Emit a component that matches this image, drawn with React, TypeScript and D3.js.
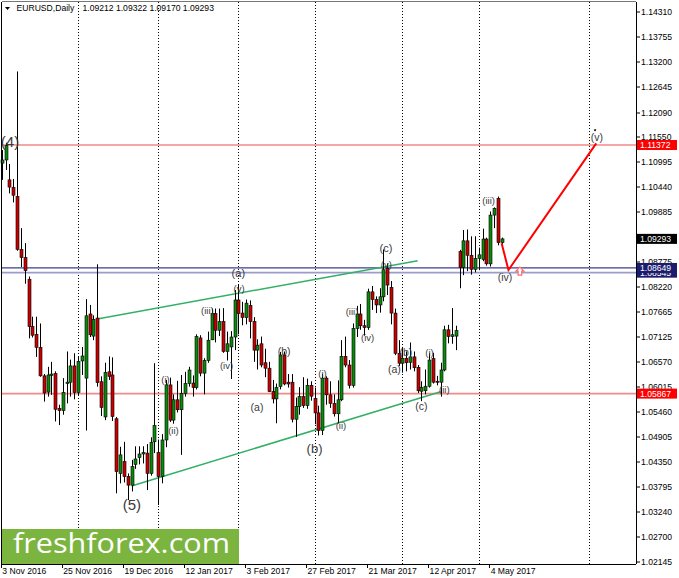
import React from "react";
import * as d3 from "d3";

// ---------- DATA ----------
const open = [
  1.1097, 1.1104, 1.106, 1.1043, 1.1023, 1.0906, 1.0888, 1.084, 1.0735, 1.0718,
  1.0689, 1.0626, 1.059, 1.0627, 1.0631, 1.0554, 1.0549, 1.0609, 1.0612, 1.0648,
  1.0589, 1.0659, 1.0621, 1.0763, 1.0714, 1.0754, 1.0613, 1.0535, 1.0635, 1.0628,
  1.0531, 1.041, 1.0436, 1.0403, 1.0384, 1.043, 1.0445, 1.0453, 1.0455, 1.041,
  1.048, 1.0456, 1.0403, 1.0484, 1.0606, 1.0528, 1.0573, 1.0551, 1.0587, 1.0609,
  1.061, 1.06, 1.071, 1.0632, 1.066, 1.0706, 1.0764, 1.0727, 1.0746, 1.068,
  1.069, 1.0712, 1.0794, 1.0765, 1.0755, 1.0782, 1.0746, 1.0683, 1.0697, 1.0655,
  1.0643, 1.0591, 1.0575, 1.0602, 1.0672, 1.0612, 1.0612, 1.053, 1.0558, 1.058,
  1.056, 1.0605, 1.0576, 1.0544, 1.0505, 1.0621, 1.0584, 1.0565, 1.0542, 1.0573,
  1.0669, 1.065, 1.0605, 1.0731, 1.0763, 1.0737, 1.0733, 1.0812, 1.0795, 1.0783,
  1.0801, 1.0864, 1.0822, 1.0765, 1.0676, 1.0654, 1.0665, 1.0656, 1.0668, 1.0645,
  1.0592, 1.0593, 1.0603, 1.0664, 1.0614, 1.0612, 1.0639, 1.0728, 1.0713, 1.0714,
  1.0901, 1.0866, 1.0925, 1.0893, 1.0862, 1.0886, 1.0884, 1.0929, 1.0874, 1.0982,
  1.1019, 1.09212,
];
const high = [
  1.1126, 1.1142, 1.1095, 1.1062, 1.13, 1.0953, 1.092, 1.0846, 1.0757, 1.0757,
  1.0742, 1.063, 1.0646, 1.0657, 1.0636, 1.0562, 1.0621, 1.068, 1.0662, 1.0676,
  1.0668, 1.069, 1.0796, 1.0783, 1.076, 1.0873, 1.0625, 1.0655, 1.0669, 1.0667,
  1.0535, 1.0469, 1.048, 1.041, 1.044, 1.047, 1.047, 1.047, 1.0475, 1.049,
  1.0654, 1.0485, 1.0497, 1.0617, 1.0622, 1.0585, 1.0615, 1.0628, 1.0635, 1.0646,
  1.0627, 1.0718, 1.0716, 1.0665, 1.0724, 1.0775, 1.0775, 1.0775, 1.0776, 1.0724,
  1.0725, 1.0816, 1.0829, 1.079, 1.0795, 1.0793, 1.0756, 1.0707, 1.0713, 1.0686,
  1.0657, 1.0617, 1.0609, 1.0679, 1.068, 1.063, 1.063, 1.0578, 1.0601, 1.0623,
  1.062, 1.0614, 1.06, 1.056, 1.063, 1.0625, 1.0614, 1.0585, 1.0616, 1.0705,
  1.0713, 1.0661, 1.0742, 1.0781, 1.0785, 1.075, 1.0819, 1.0825, 1.0802, 1.082,
  1.0906, 1.0875, 1.0836, 1.0775, 1.0705, 1.069, 1.068, 1.07, 1.068, 1.065,
  1.0614, 1.064, 1.0676, 1.0677, 1.0626, 1.0655, 1.0737, 1.0739, 1.0776, 1.0737,
  1.0905, 1.0949, 1.095, 1.0935, 1.0935, 1.091, 1.0952, 1.0932, 1.099, 1.0999,
  1.1023, 1.09322,
];
const low = [
  1.106, 1.1082, 1.103, 1.101, 1.0903, 1.0867, 1.083, 1.0709, 1.0711, 1.0668,
  1.0624, 1.0569, 1.058, 1.0584, 1.0525, 1.0517, 1.054, 1.0565, 1.058, 1.0574,
  1.0582, 1.0628, 1.0505, 1.0712, 1.0705, 1.0602, 1.0537, 1.0528, 1.0617, 1.0526,
  1.0366, 1.0388, 1.039, 1.0351, 1.037, 1.042, 1.043, 1.0432, 1.0373, 1.0405,
  1.0455, 1.034, 1.0388, 1.0468, 1.0524, 1.052, 1.0545, 1.0451, 1.058, 1.0602,
  1.058, 1.0596, 1.0625, 1.0585, 1.0655, 1.0705, 1.07, 1.0714, 1.0677, 1.066,
  1.0619, 1.0683, 1.0718, 1.0738, 1.074, 1.0709, 1.0657, 1.064, 1.0645, 1.0623,
  1.059, 1.0565, 1.0521, 1.0596, 1.0605, 1.06, 1.0523, 1.0491, 1.054, 1.0555,
  1.0553, 1.0571, 1.0519, 1.0494, 1.0495, 1.0562, 1.0555, 1.0536, 1.0521, 1.057,
  1.0645, 1.0598, 1.06, 1.0712, 1.0728, 1.0715, 1.0728, 1.0772, 1.0765, 1.0766,
  1.0791, 1.0805, 1.074, 1.0672, 1.0648, 1.0633, 1.0636, 1.064, 1.0636, 1.0588,
  1.057, 1.0585, 1.06, 1.0609, 1.0605, 1.058, 1.0636, 1.0698, 1.0697, 1.0683,
  1.082, 1.0849, 1.0858, 1.085, 1.0855, 1.086, 1.088, 1.087, 1.0868, 1.0953,
  1.0915, 1.0917,
];
const close = [
  1.1104, 1.1136, 1.1044, 1.1026, 1.0906, 1.0888, 1.0859, 1.0735, 1.0716, 1.0689,
  1.0626, 1.0588, 1.0628, 1.063, 1.0552, 1.0549, 1.0589, 1.0612, 1.0648, 1.0589,
  1.0658, 1.067, 1.0759, 1.0717, 1.0751, 1.0611, 1.0556, 1.0633, 1.0625, 1.0536,
  1.0414, 1.0451, 1.0403, 1.0384, 1.0425, 1.0442, 1.0453, 1.0456, 1.041, 1.0478,
  1.0516, 1.0403, 1.0484, 1.0606, 1.0528, 1.0573, 1.0551, 1.0587, 1.0609, 1.0639,
  1.06, 1.0713, 1.0632, 1.066, 1.0705, 1.0764, 1.0727, 1.0746, 1.068, 1.0697,
  1.0712, 1.0794, 1.0764, 1.0755, 1.0787, 1.0746, 1.0683, 1.0694, 1.065, 1.0643,
  1.0591, 1.0575, 1.06, 1.0672, 1.0608, 1.0608, 1.053, 1.0558, 1.058, 1.056,
  1.0605, 1.0581, 1.0544, 1.0505, 1.0621, 1.0584, 1.0565, 1.0542, 1.0573, 1.0669,
  1.065, 1.0605, 1.0731, 1.0763, 1.0737, 1.0733, 1.0812, 1.0795, 1.0783, 1.0801,
  1.0861, 1.0827, 1.0765, 1.0676, 1.0654, 1.0665, 1.0655, 1.0668, 1.0644, 1.0593,
  1.06, 1.0603, 1.0661, 1.0612, 1.0612, 1.0639, 1.0728, 1.0713, 1.0717, 1.0726,
  1.0866, 1.0925, 1.0893, 1.0862, 1.0886, 1.0894, 1.0929, 1.0874, 1.0982, 1.0997,
  1.0921, 1.09293,
];

const dateTickBars = [0, 16, 32, 48, 64, 80, 96, 112, 128];
const dateTickLabels = [
  "3 Nov 2016", "25 Nov 2016", "19 Dec 2016", "12 Jan 2017", "3 Feb 2017",
  "27 Feb 2017", "21 Mar 2017", "12 Apr 2017", "4 May 2017",
];
const monthSeparatorBars = [20, 41, 62, 82, 105, 125, 154];

const priceTicks = [
  1.1431, 1.13755, 1.132, 1.12645, 1.1209, 1.1155, 1.10995, 1.1044, 1.09885,
  1.0933, 1.08775, 1.0822, 1.07665, 1.07125, 1.0657, 1.06015, 1.0546, 1.04905,
  1.0435, 1.03795, 1.0324, 1.027, 1.02145,
];
// tick whose label sits fully under the last-price box in the reference
const hiddenTickLabels = [1.0933];

const redLevels = [1.11372, 1.05867];
const blueLevels = [1.08649, 1.08545];
const lastPrice = 1.09293;

// trend lines: [bar, price] pairs
const upperChannel = [[25, 1.0752], [109, 1.0881]];
const lowerChannel = [[34, 1.0382], [115, 1.0591]];
const projection = [[131, 1.09195], [132.8, 1.08604], [155.8, 1.11409]];
const arrowMark = [135.8, 1.0858];

// wave labels: text, bar, price, font size
const waveText = [
  "(4)", "(5)", "(a)", "(v)", "(iii)", "(iv)", "(i)", "(ii)", "(a)", "(b)",
  "(b)", "(i)", "(ii)", "(iii)", "(iv)", "(c)", "(v)", "(a)", "(b)", "(c)",
  "(i)", "(ii)", "(iii)", "(iv)", "(v)",
];
const waveBar = [
  2.15, 34.1, 62.0, 62.2, 53.9, 58.9, 42.9, 45.0, 66.9, 74.0,
  81.97, 84.06, 88.9, 91.8, 95.9, 100.7, 100.8, 102.9, 105.9, 110.0,
  112.1, 116.0, 127.6, 131.9, 156.0,
];
const wavePrice = [
  1.1146, 1.03404, 1.08537, 1.08194, 1.07718, 1.06489, 1.06179, 1.0505, 1.0557, 1.0681,
  1.04661, 1.06312, 1.05161, 1.07685, 1.07109, 1.0908, 1.08726, 1.06401, 1.06788, 1.05592,
  1.06788, 1.05947, 1.10143, 1.08449, 1.11538,
];
const waveSize = [
  15, 15, 11, 9.5, 9.5, 9.5, 9.5, 9.5, 10.5, 10.5,
  13, 9.5, 9.5, 9.5, 9.5, 11, 9.5, 10.5, 10.5, 10.5,
  9.5, 9.5, 9.5, 10.5, 10.5,
];

// ---------- LAYOUT ----------
const W = 679;
const H = 578;
const frame = { left: 2, right: 636, top: 2, bottom: 564 };
const x = d3.scaleLinear().domain([0, 131]).range([1.8, 501.6]);
const y = d3.scaleLinear().domain([1.02145, 1.1431]).range([561.7, 12.3]);
const font = "'Liberation Sans', Arial, sans-serif";

const snap = (v: number) => Math.round(v) + 0.5;

export default function App() {
  const line = d3
    .line<number[]>()
    .x((d) => x(d[0]))
    .y((d) => y(d[1]));

  const candles = open.map((o, i) => {
    const c = close[i];
    const cx = Math.round(x(i));
    const yTop = y(Math.max(o, c));
    const yBot = y(Math.min(o, c));
    const up = c >= o;
    return (
      <g key={i}>
        <line
          x1={cx + 0.5}
          x2={cx + 0.5}
          y1={y(high[i])}
          y2={y(low[i])}
          stroke="#000"
          strokeWidth={1}
        />
        <rect
          x={cx - 1}
          y={yTop}
          width={3}
          height={Math.max(1, yBot - yTop)}
          fill={up ? "#0a8a0a" : "#c80000"}
          stroke="#000"
          strokeWidth={0.6}
        />
      </g>
    );
  });

  const ax = x(arrowMark[0]);
  const ay = y(arrowMark[1]);

  return (
    <svg width={W} height={H} style={{ display: "block", position: "absolute", left: 0, top: 0 }}>
      <rect x={0} y={0} width={W} height={H} fill="#fff" />

      {/* month separators */}
      {monthSeparatorBars.map((b) => (
        <line
          key={b}
          x1={snap(x(b))}
          x2={snap(x(b))}
          y1={frame.top}
          y2={frame.bottom}
          stroke="#000"
          strokeWidth={1}
          strokeDasharray="1,2"
        />
      ))}

      {/* horizontal levels */}
      {blueLevels.map((p, k) => (
        <line
          key={"b" + k}
          x1={frame.left}
          x2={frame.right}
          y1={y(p)}
          y2={y(p)}
          stroke={k === 0 ? "#3c3c96" : "#9c9ccc"}
          strokeWidth={k === 0 ? 1.2 : 1.6}
        />
      ))}
      {redLevels.map((p, k) => (
        <line
          key={"r" + k}
          x1={frame.left}
          x2={frame.right}
          y1={y(p)}
          y2={y(p)}
          stroke="#f28a8a"
          strokeWidth={1.6}
        />
      ))}

      {/* channel lines */}
      <path d={line(upperChannel) || ""} stroke="#33b066" strokeWidth={1.5} fill="none" />
      <path d={line(lowerChannel) || ""} stroke="#33b066" strokeWidth={1.5} fill="none" />

      {/* candles */}
      {candles}

      {/* projection */}
      <path d={line(projection) || ""} stroke="#ff0000" strokeWidth={2} fill="none" />
      <path
        d={`M${ax},${ay - 4} L${ax + 4},${ay} L${ax + 1.8},${ay} L${ax + 1.8},${ay + 4} L${ax - 1.8},${ay + 4} L${ax - 1.8},${ay} L${ax - 4},${ay} Z`}
        fill="#fff"
        stroke="#ff6a6a"
        strokeWidth={1.2}
      />
      <circle cx={x(155.5)} cy={y(1.11702)} r={1.2} fill="#333" />

      {/* wave labels */}
      {waveText.map((t, k) => (
        <text
          key={"w" + k}
          x={x(waveBar[k])}
          y={y(wavePrice[k])}
          fontFamily={font}
          fontSize={waveSize[k]}
          fill="#3a3a3a"
          textAnchor="middle"
          dominantBaseline="central"
        >
          {t}
        </text>
      ))}

      {/* watermark */}
      <rect x={frame.left} y={529} width={237} height={35} fill="#7bb43f" />
      <text
        x={13}
        y={553}
        fontFamily="'Open Sans', sans-serif"
        fontSize={28}
        fill="#fff"
        textLength={217}
        lengthAdjust="spacingAndGlyphs"
      >
        freshforex.com
      </text>

      {/* frame */}
      <line x1={frame.left} x2={frame.right} y1={1.5} y2={1.5} stroke="#777" />
      <line x1={1.5} x2={1.5} y1={frame.top} y2={frame.bottom} stroke="#000" />
      <line x1={frame.left} x2={frame.right} y1={frame.bottom + 0.5} y2={frame.bottom + 0.5} stroke="#000" />
      <line x1={frame.right + 0.5} x2={frame.right + 0.5} y1={frame.top} y2={frame.bottom} stroke="#000" />

      {/* price axis */}
      {priceTicks.map((p) => (
        <g key={p}>
          <line x1={frame.right} x2={frame.right + 4} y1={snap(y(p)) - 0.5} y2={snap(y(p)) - 0.5} stroke="#000" />
          {hiddenTickLabels.includes(p) ? null : (
            <text x={641} y={y(p)} fontFamily={font} fontSize={8.6} fill="#000" dominantBaseline="central">
              {p.toFixed(5)}
            </text>
          )}
        </g>
      ))}

      {/* price boxes */}
      {[
        { p: blueLevels[1], bg: "#1c1c6e" },
        { p: blueLevels[0], bg: "#1c1c6e" },
        { p: lastPrice, bg: "#000" },
        { p: redLevels[0], bg: "#ff0000" },
        { p: redLevels[1], bg: "#ff0000" },
      ].map((b, k) => (
        <g key={"box" + k}>
          <rect x={637} y={y(b.p) - 5} width={40} height={10} fill={b.bg} />
          <text x={640} y={y(b.p)} fontFamily={font} fontSize={8.6} fill="#fff" dominantBaseline="central">
            {b.p.toFixed(5)}
          </text>
        </g>
      ))}

      {/* date axis */}
      {dateTickBars.map((b, k) => (
        <g key={"d" + k}>
          <line x1={snap(x(b)) - 1} x2={snap(x(b)) - 1} y1={frame.bottom} y2={frame.bottom + 4} stroke="#000" />
          <text x={x(b) + 0.5} y={574} fontFamily={font} fontSize={8.6} fill="#000">
            {dateTickLabels[k]}
          </text>
        </g>
      ))}

      {/* title */}
      <path d="M5,7 L10,7 L7.5,10 Z" fill="#000" />
      <text x={16.5} y={11} fontFamily={font} fontSize={8.6} fill="#000">
        EURUSD,Daily
      </text>
      <text x={82.5} y={11} fontFamily={font} fontSize={8.6} fill="#000">
        1.09212 1.09322 1.09170 1.09293
      </text>
    </svg>
  );
}
